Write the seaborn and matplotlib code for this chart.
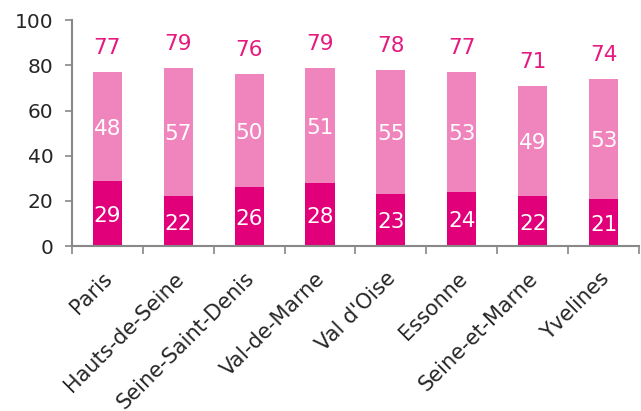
import matplotlib
matplotlib.use("Agg")
import matplotlib.pyplot as plt
import matplotlib.transforms as mtransforms
import seaborn as sns
import numpy as np
import pandas as pd

# data
departements = ["Paris", "Hauts-de-Seine", "Seine-Saint-Denis", "Val-de-Marne",
                "Val d'Oise", "Essonne", "Seine-et-Marne", "Yvelines"]
bas = [29, 22, 26, 28, 23, 24, 22, 21]
haut = [48, 57, 50, 51, 55, 53, 49, 53]
total = [77, 79, 76, 79, 78, 77, 71, 74]

dark = "#E2007A"
light = "#F084BC"
gris = "#888888"

df = pd.DataFrame({"dep": departements, "bas": bas, "haut": haut, "total": total})

sns.set_style("white")
plt.rcParams["font.family"] = ["DejaVu Sans"]

fig = plt.figure(figsize=(6.41, 4.11), dpi=100)
ax = fig.add_axes([0.112, 0.401, 0.885, 0.55])

# stacked bars: the total in light pink, then the bottom part in dark
sns.barplot(data=df, x="dep", y="total", color=light, width=0.41,
            saturation=1, linewidth=0, ax=ax)
sns.barplot(data=df, x="dep", y="bas", color=dark, width=0.41,
            saturation=1, linewidth=0, ax=ax)

for i in range(len(departements)):
    ax.text(i, bas[i] / 2 - 1, str(bas[i]), ha="center", va="center",
            color="white", fontsize=15.5)
    ax.text(i, bas[i] + haut[i] / 2 - 1, str(haut[i]), ha="center", va="center",
            color="white", fontsize=15.5)
    ax.text(i, total[i] + 10.6, str(total[i]), ha="center", va="center",
            color="#E6197E", fontsize=15.5)

ax.set_ylim(0, 100)
ax.set_xlim(-0.5, len(departements) - 0.5)
ax.set_yticks([0, 20, 40, 60, 80, 100])
ax.set_xlabel("")
ax.set_ylabel("")

# tick marks between the categories, like the original
ax.set_xticks(np.arange(-0.5, len(departements), 1.0), minor=True)
ax.set_xticks(range(len(departements)))
ax.tick_params(axis="x", which="major", bottom=False, length=0, pad=16)
ax.tick_params(axis="x", which="minor", bottom=True, length=5.5, color=gris, width=1.2)
ax.tick_params(axis="y", left=True, length=5, color=gris, width=1.2,
               labelsize=14.5, pad=8)
ax.set_xticklabels(departements, rotation=45, ha="right", va="top",
                   rotation_mode="anchor", fontsize=15)
shift = mtransforms.ScaledTranslation(-5 / 100, 0, fig.dpi_scale_trans)
for lab in ax.get_xticklabels():
    lab.set_transform(lab.get_transform() + shift)

sns.despine(ax=ax)
for s in ["left", "bottom"]:
    ax.spines[s].set_color(gris)
    ax.spines[s].set_linewidth(1.5)

fig.savefig("out.png", dpi=100)
